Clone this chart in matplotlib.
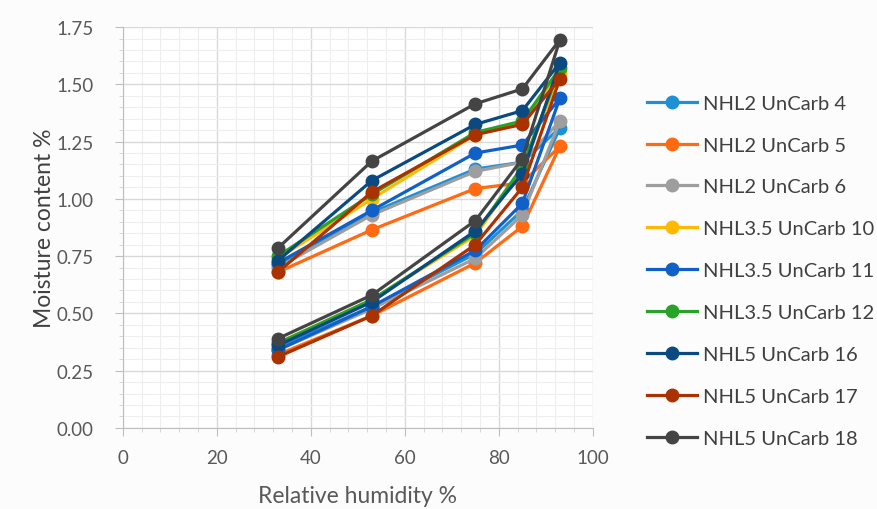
import matplotlib.pyplot as plt
from matplotlib.ticker import MultipleLocator

# relative humidity steps: adsorption up, then desorption back down
rh_ads = [33, 53, 75, 85, 93]
rh_des = [85, 75, 53, 33]

labels = [
    "NHL2 UnCarb 4", "NHL2 UnCarb 5", "NHL2 UnCarb 6",
    "NHL3.5 UnCarb 10", "NHL3.5 UnCarb 11", "NHL3.5 UnCarb 12",
    "NHL5 UnCarb 16", "NHL5 UnCarb 17", "NHL5 UnCarb 18",
]

ads_4 = [0.35, 0.53, 0.76, 0.95, 1.31]
des_4 = [1.16, 1.13, 0.94, 0.71]
ads_5 = [0.32, 0.49, 0.72, 0.88, 1.23]
des_5 = [1.07, 1.045, 0.865, 0.68]
ads_6 = [0.34, 0.52, 0.74, 0.93, 1.34]
des_6 = [1.16, 1.12, 0.93, 0.70]
ads_10 = [0.37, 0.56, 0.84, 1.13, 1.55]
des_10 = [1.33, 1.28, 1.00, 0.74]
ads_11 = [0.34, 0.53, 0.775, 0.98, 1.44]
des_11 = [1.235, 1.20, 0.95, 0.72]
ads_12 = [0.37, 0.56, 0.85, 1.14, 1.57]
des_12 = [1.34, 1.29, 1.02, 0.75]
ads_16 = [0.36, 0.55, 0.86, 1.11, 1.595]
des_16 = [1.385, 1.325, 1.08, 0.73]
ads_17 = [0.31, 0.49, 0.80, 1.05, 1.525]
des_17 = [1.325, 1.28, 1.03, 0.68]
ads_18 = [0.39, 0.58, 0.905, 1.175, 1.695]
des_18 = [1.48, 1.415, 1.165, 0.785]

ads = [ads_4, ads_5, ads_6, ads_10, ads_11, ads_12, ads_16, ads_17, ads_18]
des = [des_4, des_5, des_6, des_10, des_11, des_12, des_16, des_17, des_18]

colors = ["#1e90d6", "#ff6a13", "#9e9e9e", "#ffb900", "#1060c8",
          "#28a228", "#0b4a80", "#a93200", "#444444"]

plt.rcParams['font.family'] = ['Lato', 'DejaVu Sans']

fig = plt.figure(figsize=(8.77, 5.10), dpi=100, facecolor="#fcfcfc")
ax = fig.add_axes([0.140, 0.159, 0.536, 0.786], facecolor="white")

for lab, a, d, c in zip(labels, ads, des, colors):
    ax.plot(rh_ads + rh_des, a + d, color=c, lw=2.3, marker="o",
            markersize=9, label=lab)

ax.set_xlim(0, 100)
ax.set_ylim(0, 1.75)
ax.xaxis.set_major_locator(MultipleLocator(20))
ax.xaxis.set_minor_locator(MultipleLocator(4))
ax.yaxis.set_major_locator(MultipleLocator(0.25))
ax.yaxis.set_minor_locator(MultipleLocator(0.05))
ax.yaxis.set_major_formatter(lambda v, p: f"{v:.2f}")

ax.grid(which="major", color="#d9d9d9", lw=1.0)
ax.grid(which="minor", color="#eeeeee", lw=0.8)
ax.set_axisbelow(True)

for s in ["top", "right"]:
    ax.spines[s].set_visible(False)
for s in ["left", "bottom"]:
    ax.spines[s].set_color("#bfbfbf")

ax.tick_params(which="major", colors="#bfbfbf", labelcolor="#595959",
               labelsize=13.5, length=6)
ax.tick_params(which="minor", colors="#d0d0d0", length=3)
ax.tick_params(axis="x", pad=9)
ax.tick_params(axis="y", pad=15)

ax.set_xlabel("Relative humidity %", fontsize=16.5, color="#595959", labelpad=14)
ax.set_ylabel("Moisture content %", fontsize=16.5, color="#404040", labelpad=1)

fig.legend(loc="upper left", bbox_to_anchor=(0.717, 0.848), frameon=False,
           fontsize=14.5, labelcolor="#404040", handlelength=2.5,
           labelspacing=1.23, handletextpad=0.3)

fig.savefig("out.png", dpi=100, facecolor=fig.get_facecolor())
